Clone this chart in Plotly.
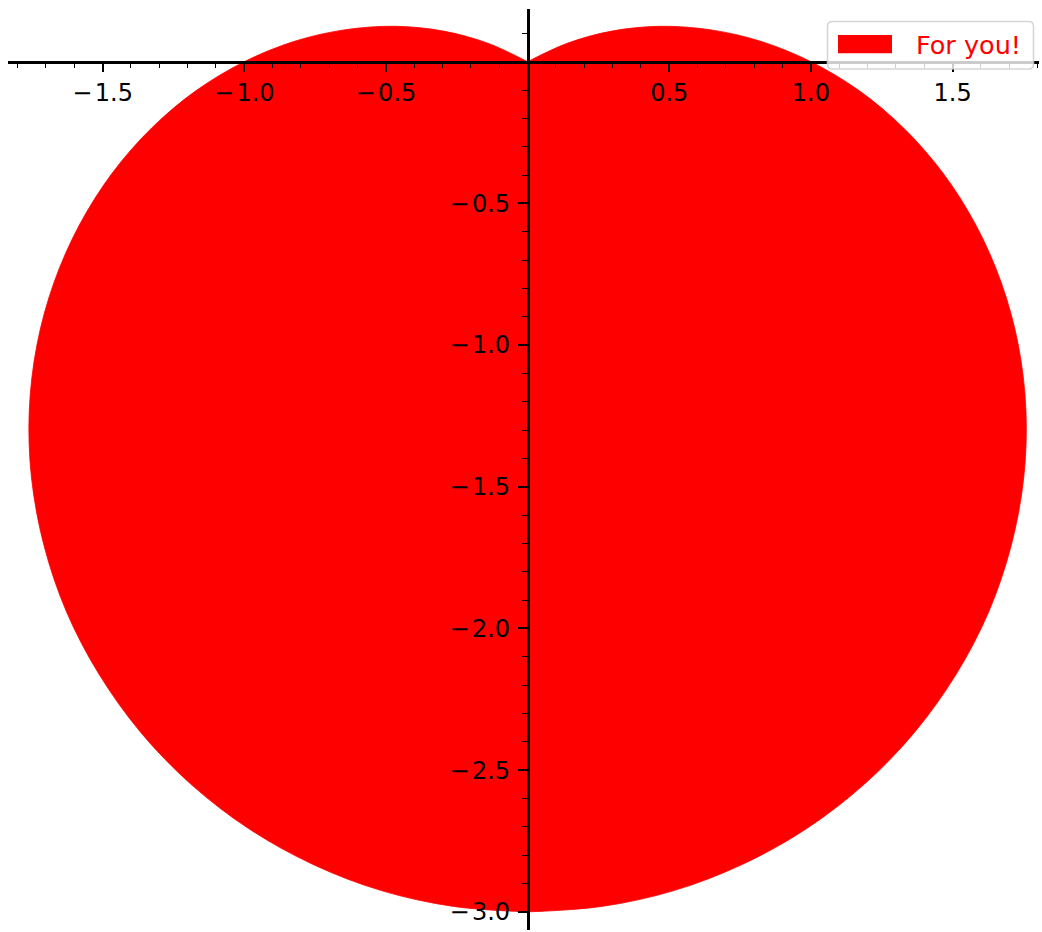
import plotly.graph_objects as go

# Right half of the heart outline, from the notch at the origin over the
# right lobe, down the flank and round to the bottom point.
right_x = [
    0.0, 0.140, 0.297, 0.466, 0.643, 0.823, 1.0,
    1.170, 1.327, 1.466, 1.582, 1.672, 1.732, 1.759, 1.751, 1.707,
    1.628, 1.513, 1.366, 1.189, 0.985, 0.759, 0.516, 0.261, 0.0,
]
right_y = [
    0.0, 0.065, 0.108, 0.125, 0.113, 0.072, 0.0,
    -0.102, -0.234, -0.393, -0.576, -0.780, -1.0, -1.232, -1.469, -1.707,
    -1.940, -2.161, -2.366, -2.549, -2.706, -2.832, -2.925, -2.981, -3.0,
]
# Left half, same traversal from the notch over the left lobe to the bottom.
left_x = [
    0.0, -0.140, -0.297, -0.466, -0.643, -0.823, -1.0,
    -1.170, -1.327, -1.466, -1.582, -1.672, -1.732, -1.759, -1.751, -1.707,
    -1.628, -1.513, -1.366, -1.189, -0.985, -0.759, -0.516, -0.261, 0.0,
]
left_y = [
    0.0, 0.065, 0.108, 0.125, 0.113, 0.072, 0.0,
    -0.102, -0.234, -0.393, -0.576, -0.780, -1.0, -1.232, -1.469, -1.707,
    -1.940, -2.161, -2.366, -2.549, -2.706, -2.832, -2.925, -2.981, -3.0,
]
series_label = "For you!"

# minus sign followed by a hair space, as in math-style tick labels
NEG = "\u2212\u200a"
x_tick_values = [-1.5, -1.0, -0.5, 0.5, 1.0, 1.5]
x_tick_labels = [NEG + "1.5", NEG + "1.0", NEG + "0.5", "0.5", "1.0", "1.5"]
y_tick_values = [-3.0, -2.5, -2.0, -1.5, -1.0, -0.5]
y_tick_labels = [NEG + "3.0", NEG + "2.5", NEG + "2.0", NEG + "1.5", NEG + "1.0", NEG + "0.5"]

W, H = 1042, 932
ML, MR, MT, MB = 8, 3, 9, 2
X_RANGE = [-1.834, 1.805]
Y_RANGE = [-3.064, 0.186]
RED = "#ff0000"
FONT = "DejaVu Sans"

plot_w = W - ML - MR
plot_h = H - MT - MB


def px_to_paper(px, py):
    return (px - ML) / plot_w, (H - MB - py) / plot_h


fig = go.Figure()
# each half is closed along the y axis, which keeps the notch sharp
for hx, hy in ((right_x, right_y), (left_x, left_y)):
    fig.add_trace(go.Scatter(
        x=hx, y=hy, mode="lines", fill="toself",
        fillcolor=RED, line=dict(color=RED, width=0.8, shape="spline", smoothing=1.0),
        name=series_label, showlegend=False, hoverinfo="skip",
    ))

# axes cross at the origin
x_pos = (0 - Y_RANGE[0]) / (Y_RANGE[1] - Y_RANGE[0])
y_pos = (0 - X_RANGE[0]) / (X_RANGE[1] - X_RANGE[0])

axis_common = dict(
    showgrid=False, zeroline=False, showline=True, linecolor="black", linewidth=2.5,
    ticks="outside", ticklen=9, tickwidth=1.6, tickcolor="black",
    tickfont=dict(family=FONT, size=24, color="black"),
    anchor="free", automargin=False, layer="above traces",
    minor=dict(ticks="outside", ticklen=4.5, tickwidth=1.2, tickcolor="black",
               tickmode="linear", tick0=0, dtick=0.1, showgrid=False),
)

fig.update_layout(
    width=W, height=H,
    margin=dict(l=ML, r=MR, t=MT, b=MB, pad=0),
    paper_bgcolor="white", plot_bgcolor="white",
    showlegend=False,
    xaxis=dict(range=X_RANGE, position=x_pos, tickmode="array",
               tickvals=x_tick_values, ticktext=x_tick_labels, **axis_common),
    yaxis=dict(range=Y_RANGE, position=y_pos, tickmode="array",
               tickvals=y_tick_values, ticktext=y_tick_labels,
               ticklabelstandoff=3, **axis_common),
)

# legend box with rounded corners
bx0, by0, bx1, by1 = 827.5, 21.5, 1033.5, 69.0
rad = 5.0


def rounded_path(x0, y0, x1, y1, r):
    def P(px, py):
        fx, fy = px_to_paper(px, py)
        return f"{fx:.5f},{fy:.5f}"
    parts = [
        "M" + P(x0 + r, y0),
        "L" + P(x1 - r, y0),
        "Q" + P(x1, y0) + " " + P(x1, y0 + r),
        "L" + P(x1, y1 - r),
        "Q" + P(x1, y1) + " " + P(x1 - r, y1),
        "L" + P(x0 + r, y1),
        "Q" + P(x0, y1) + " " + P(x0, y1 - r),
        "L" + P(x0, y0 + r),
        "Q" + P(x0, y0) + " " + P(x0 + r, y0),
    ]
    return " ".join(parts) + " Z"


fig.add_shape(type="path", xref="paper", yref="paper",
              path=rounded_path(bx0, by0, bx1, by1, rad),
              fillcolor="rgba(255,255,255,0.8)",
              line=dict(color="rgba(204,204,204,0.8)", width=1.6), layer="above")

sx0, sy0 = px_to_paper(838, 35)
sx1, sy1 = px_to_paper(892, 53.3)
fig.add_shape(type="rect", xref="paper", yref="paper",
              x0=sx0, x1=sx1, y0=sy1, y1=sy0,
              fillcolor=RED, line=dict(width=0), layer="above")

tx, ty = px_to_paper(913.5, 44.5)
fig.add_annotation(x=tx, y=ty, xref="paper", yref="paper", text=series_label,
                   showarrow=False, xanchor="left", yanchor="middle",
                   font=dict(family=FONT, size=25.5, color=RED))

fig.write_html("out.html")
